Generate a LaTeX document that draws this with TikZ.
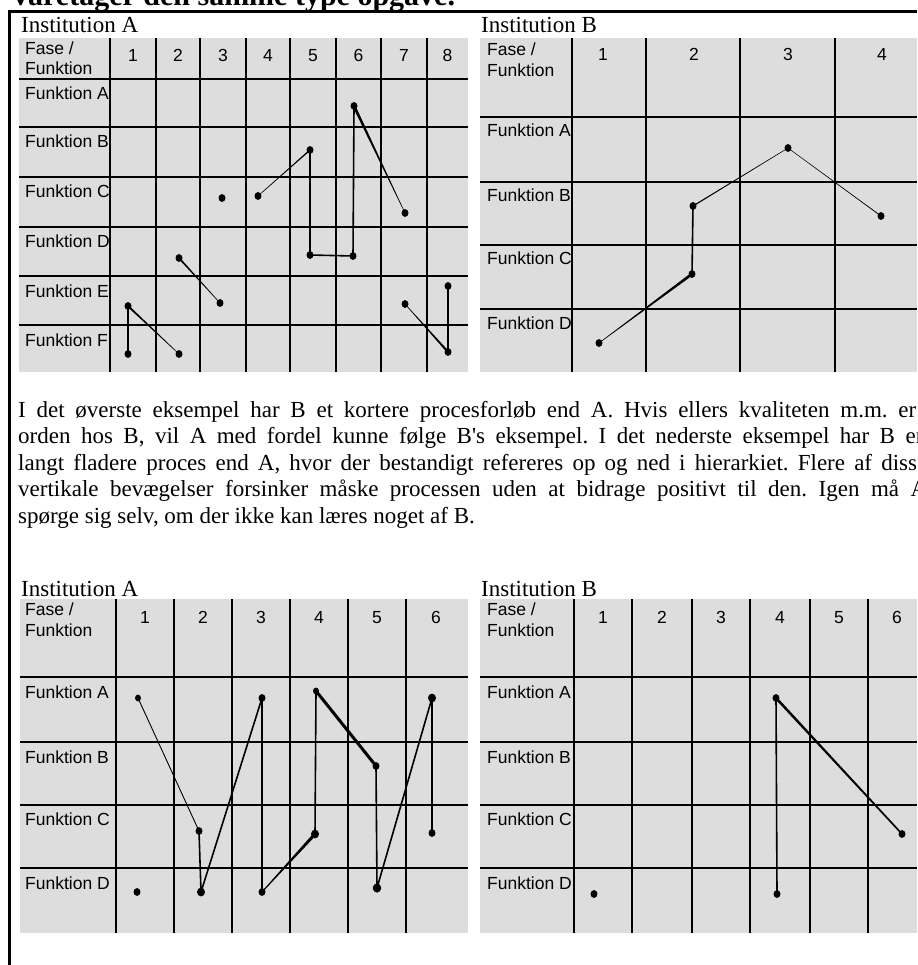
\documentclass[tikz,border=0pt]{standalone}
\usepackage{fontspec}
\setmainfont{Liberation Serif}
\setsansfont{Liberation Sans}
\usetikzlibrary{calc,shapes.geometric}
\definecolor{grigio}{RGB}{221,221,221}
\frenchspacing

% tratto rastremato da #1 (mezza larghezza #3) a #2 (mezza larghezza #4)
\newcommand{\fuso}[4]{%
	\fill[black] ($(#1.center)!#3!90:(#2.center)$) -- ($(#2.center)!#4!-90:(#1.center)$)
	-- ($(#2.center)!#4!90:(#1.center)$) -- ($(#1.center)!#3!-90:(#2.center)$) -- cycle;}

\begin{document}
\begin{tikzpicture}[x=1pt, y=-1pt,
			cella/.style={fill=grigio},
			riga/.style={line width=1.8pt, black},
			bordo/.style={line width=2.8pt, black},
			passo/.style={line width=1.6pt, black, line cap=round, line join=round},
			forte/.style={line width=3pt, black, line cap=round},
			sottile/.style={line width=0.9pt, black},
			punto/.style={ellipse, fill=black, inner sep=0pt, minimum width=7pt, minimum height=7.8pt},
			etich/.style={font=\sffamily\fontsize{17.5}{20}\selectfont, anchor=base west, inner sep=0pt},
			fase/.style={font=\sffamily\fontsize{17.5}{20}\selectfont, anchor=base, inner sep=0pt},
			inst/.style={font=\fontsize{23}{26}\selectfont, anchor=base west, inner sep=0pt},
			testo/.style={font=\fontsize{23}{26.5}\selectfont, anchor=base west, inner sep=0pt},
			]
			
			\useasboundingbox (0,0) rectangle (917,965);
			
			\node[inst, font=\bfseries\fontsize{30}{30}\selectfont] (titolo) at (13,6) {varetager den samme type opgave.};
			\draw[bordo] (8,11.5) -- (917,11.5);
			\draw[bordo] (9.5,10) -- (9.5,965);
			
			%% ── Institution A (øverst) ─────────────────────────────
			\node[inst] (instA1) at (21,33) {Institution A};
			\fill[cella] (19,38) rectangle (468,372);
			\foreach \y in {79,127,177,227,276,325}
			\draw[riga] (19,\y) -- (468,\y);
			\foreach \x in {110,156,200,246,290,336,381,427}
			\draw[riga] (\x,38) -- (\x,372);
			\node[etich] (tlfase) at (25,55) {Fase /};
			\node[etich] (tlfunk) at (25,75) {Funktion};
			\foreach \n/\x in {1/133,2/178,3/223,4/268,5/313,6/358.5,7/404,8/447.5}
			\node[fase] (tlnum\n) at (\x,62) {\n};
			\foreach \r/\y in {A/100,B/148,C/198,D/248,E/297,F/346}
			\node[etich] (tlrow\r) at (25,\y) {Funktion \r};
			\node[punto] (tlE1) at (128,306) {};
			\node[punto] (tlF1) at (128,354) {};
			\node[punto] (tlF2) at (179,354) {};
			\node[punto] (tlD2) at (179,258) {};
			\node[punto] (tlE3) at (220,303) {};
			\node[punto] (tlC3) at (222,198) {};
			\node[punto] (tlC4) at (258,196) {};
			\node[punto] (tlB5) at (310,150) {};
			\node[punto] (tlD5) at (310,255) {};
			\node[punto] (tlD6) at (353,256) {};
			\node[punto] (tlA6) at (354,106) {};
			\node[punto] (tlC7) at (405,213) {};
			\node[punto] (tlE7) at (405,304) {};
			\node[punto] (tlE8) at (448,286) {};
			\node[punto] (tlF8) at (448,352) {};
			\draw[passo] (tlE1.center) -- (tlF1.center);
			\fuso{tlE1}{tlF2}{1pt}{0.25pt}
			\fuso{tlD2}{tlE3}{0.9pt}{0.25pt}
			\fuso{tlC4}{tlB5}{0.25pt}{0.7pt}
			\draw[passo] (tlB5.center) -- (tlD5.center) -- (tlD6.center) -- (tlA6.center);
			\fuso{tlA6}{tlC7}{1.4pt}{0.25pt}
			\fuso{tlE7}{tlF8}{0.25pt}{1.1pt}
			\draw[passo] (tlE8.center) -- (tlF8.center);
			
			%% ── Institution B (øverst) ─────────────────────────────
			\node[inst] (instB1) at (481,33) {Institution B};
			\fill[cella] (480,38) rectangle (917,372);
			\foreach \y in {117,182,245,309}
			\draw[riga] (480,\y) -- (917,\y);
			\foreach \x in {572,646,740,835}
			\draw[riga] (\x,38) -- (\x,372);
			\node[etich] (trfase) at (487,56) {Fase /};
			\node[etich] (trfunk) at (487,77) {Funktion};
			\foreach \n/\x in {1/603,2/694,3/788,4/882}
			\node[fase] (trnum\n) at (\x,61) {\n};
			\foreach \r/\y in {A/137,B/202,C/265,D/329}
			\node[etich] (trrow\r) at (487,\y) {Funktion \r};
			\node[punto] (trD1) at (599,343) {};
			\node[punto] (trC2) at (692,274) {};
			\node[punto] (trB2) at (693,206) {};
			\node[punto] (trA3) at (788,148) {};
			\node[punto] (trB4) at (881,216) {};
			\fuso{trD1}{trC2}{0.25pt}{1.4pt}
			\draw[passo] (trC2.center) -- (trB2.center);
			\fuso{trB2}{trA3}{0.6pt}{0.25pt}
			\fuso{trA3}{trB4}{0.25pt}{0.4pt}
			
			%% ── tekst ──────────────────────────────────────────────
			\node[testo] (linje1) at (18,417) {\makebox[898pt][s]{I det øverste eksempel har B et kortere procesforløb end A. Hvis ellers kvaliteten m.m. er}};
			\node[testo] (linje2) at (18,443.5) {\makebox[909pt][s]{orden hos B, vil A med fordel kunne følge B\textquotesingle s eksempel. I det nederste eksempel har B en}};
			\node[testo] (linje3) at (18,470) {\makebox[909pt][s]{langt fladere proces end A, hvor der bestandigt refereres op og ned i hierarkiet. Flere af disse}};
			\node[testo] (linje4) at (18,496.5) {\makebox[909pt][s]{vertikale bevægelser forsinker måske processen uden at bidrage positivt til den. Igen må A}};
			\node[testo] (linje5) at (18,523) {spørge sig selv, om der ikke kan læres noget af B.};
			
			%% ── Institution A (nederst) ────────────────────────────
			\node[inst] (instA2) at (21,596) {Institution A};
			\fill[cella] (20,599) rectangle (468,933);
			\foreach \y in {677,742,805,868}
			\draw[riga] (20,\y) -- (468,\y);
			\foreach \x in {116,174,232,290,348,406}
			\draw[riga] (\x,599) -- (\x,933);
			\node[etich] (blfase) at (25,615) {Fase /};
			\node[etich] (blfunk) at (25,636) {Funktion};
			\foreach \n/\x in {1/145,2/203,3/261,4/319,5/377,6/436}
			\node[fase] (blnum\n) at (\x,623) {\n};
			\foreach \r/\y in {A/698,B/763,C/825,D/889}
			\node[etich] (blrow\r) at (25,\y) {Funktion \r};
			\node[punto] (blD1) at (137,892) {};
			\node[punto, minimum width=6pt, minimum height=6.8pt] (blA1) at (138,698) {};
			\node[punto] (blC2) at (199,831) {};
			\node[punto, minimum width=8pt, minimum height=8.8pt] (blD2) at (201,892) {};
			\node[punto] (blA3) at (262,698) {};
			\node[punto] (blD3) at (262,892) {};
			\node[punto, minimum width=8pt, minimum height=8.8pt] (blC4) at (315,834) {};
			\node[punto, minimum width=6pt, minimum height=6.8pt] (blA4) at (316,691) {};
			\node[punto] (blB5) at (376,766) {};
			\node[punto, minimum width=8.5pt, minimum height=9.2pt] (blD5) at (377,888) {};
			\node[punto, minimum width=8pt, minimum height=8.8pt] (blA6) at (432,698) {};
			\node[punto] (blC6) at (432,833) {};
			\draw[sottile] (blA1.center) -- (blC2.center);
			\draw[passo] (blC2.center) -- (blD2.center) -- (blA3.center) -- (blD3.center);
			\fuso{blD3}{blC4}{0.5pt}{1.6pt}
			\draw[passo] (blC4.center) -- (blA4.center);
			\draw[forte] (blA4.center) -- (blB5.center);
			\draw[passo] (blB5.center) -- (blD5.center) -- (blA6.center) -- (blC6.center);
			
			%% ── Institution B (nederst) ────────────────────────────
			\node[inst] (instB2) at (481,596) {Institution B};
			\fill[cella] (480,599) rectangle (917,933);
			\foreach \y in {677,742,805,868}
			\draw[riga] (480,\y) -- (917,\y);
			\foreach \x in {574,632,692,750,810,868}
			\draw[riga] (\x,599) -- (\x,933);
			\node[etich] (brfase) at (487,615) {Fase /};
			\node[etich] (brfunk) at (487,636) {Funktion};
			\foreach \n/\x in {1/603,2/662,3/721,4/780,5/839,6/897}
			\node[fase] (brnum\n) at (\x,623) {\n};
			\foreach \r/\y in {A/698,B/763,C/825,D/889}
			\node[etich] (brrow\r) at (487,\y) {Funktion \r};
			\node[punto] (brD1) at (594,894) {};
			\node[punto] (brA4) at (776,698) {};
			\node[punto] (brD4) at (777,894) {};
			\node[punto] (brC6) at (902,834) {};
			\draw[passo] (brA4.center) -- (brD4.center);
			\fuso{brA4}{brC6}{1.3pt}{0.8pt}
			
	\end{tikzpicture}
\end{document}
